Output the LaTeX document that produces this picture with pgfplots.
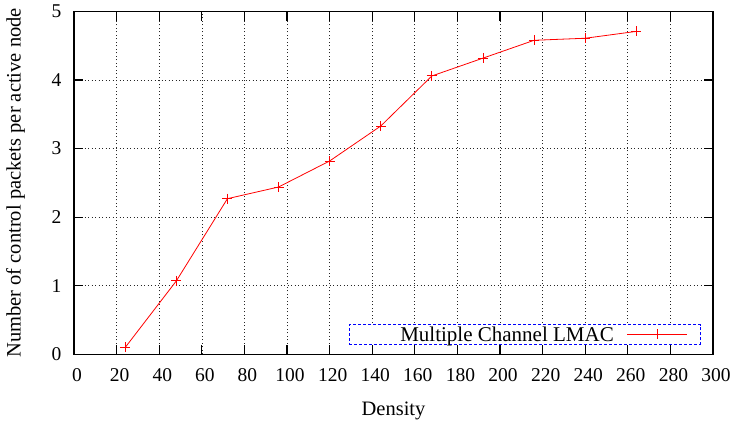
\documentclass[border=0pt]{standalone}
\usepackage{fontspec}
\setmainfont{Liberation Serif}
\usepackage{pgfplots}
\pgfplotsset{compat=1.18}
\begin{document}
\begin{tikzpicture}
\begin{axis}[
  at={(0,0)}, anchor=south west,
  scale only axis, width=638.9bp, height=342.8bp,
  xmin=0, xmax=300, ymin=0, ymax=5,
  xtick distance=20, ytick distance=1,
  /pgf/number format/assume math mode=true,
  tick label style={font=\fontsize{19.5bp}{22bp}\selectfont, inner sep=0pt},
  xticklabel style={yshift=-14bp, xshift=3bp},
  yticklabel style={xshift=-12.4bp},
  axis line style={line width=1.4bp},
  major tick length=9bp,
  every tick/.style={black, line width=1.2bp},
  grid=major,
  major grid style={black!85, line width=0.7bp, dash pattern=on 1bp off 2.5bp},
  xlabel={Density},
  ylabel={Number of control packets per active node},
  label style={font=\fontsize{20.5bp}{24bp}\selectfont, inner sep=0pt},
  xlabel style={at={(axis description cs:0.5,-0.1383)}, anchor=north},
  ylabel style={at={(axis description cs:-0.0916,0.5)}, anchor=center},
  legend style={at={(rel axis cs:0.9807,0.028)}, anchor=south east,
    draw=blue, line width=0.8bp, dash pattern=on 3bp off 2bp, inner sep=0pt,
    font=\fontsize{21bp}{24bp}\selectfont,
    nodes={inner sep=0pt, text height=17.3bp, text depth=2.4bp},
    column sep=13.3bp},
  legend plot pos=right,
  legend image code/.code={%
    \draw[mark repeat=2,mark phase=2] plot coordinates {(0bp,0bp)(29.7bp,0bp)(59.4bp,0bp)};
    \path (72.4bp,0bp);},
]
\addplot[red, solid, line width=0.8bp, mark=+, mark size=5bp, mark options={solid, line width=0.9bp}]
coordinates {
(24,0.10) (48,1.07) (72,2.27) (96,2.44) (120,2.82) (144,3.33)
(168,4.06) (192,4.32) (216,4.58) (240,4.61) (264,4.71)
};
\addlegendentry{\hspace*{51bp}Multiple Channel LMAC}
\end{axis}
\pgfresetboundingbox
\path[use as bounding box] (-74.1bp,-67.7bp) rectangle (657.9bp,354.3bp);
\end{tikzpicture}
\end{document}
